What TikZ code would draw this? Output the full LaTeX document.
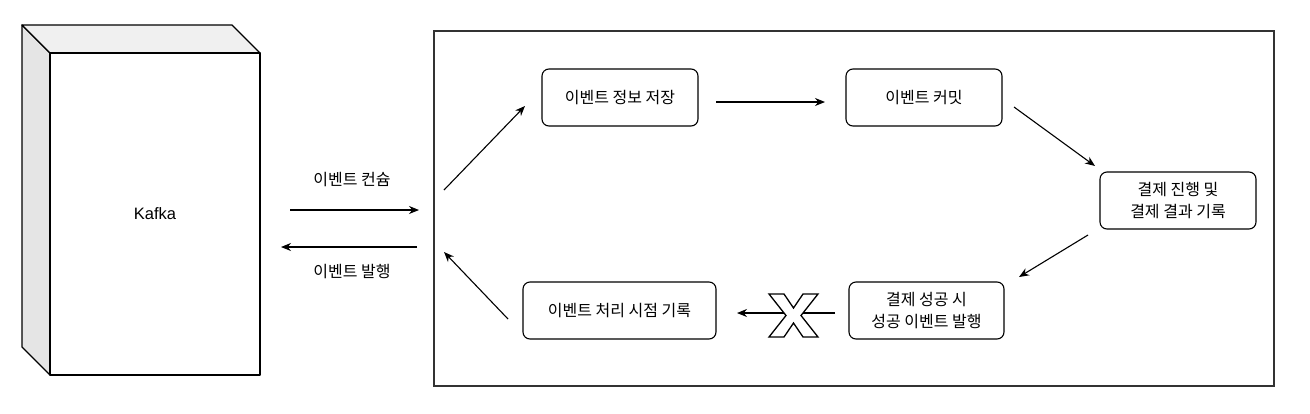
\documentclass[tikz,border=0pt]{standalone}
\usepackage{fontspec}
\setmainfont{Noto Sans CJK KR}
\newfontfamily\latinfont{Liberation Sans}
\usetikzlibrary{arrows.meta}
\begin{document}
\begin{tikzpicture}[x=1pt,y=-1pt,
  every node/.style={font=\fontsize{16}{22}\selectfont},
  proc/.style={draw, rounded corners=7pt, line width=1.1pt, minimum width=156pt, minimum height=57pt, align=center, inner sep=2pt},
  arr/.style={line width=1.1pt, -{Stealth[length=10pt,width=8pt]}},
  face/.style={draw, line width=1.3pt, line join=round}]
\useasboundingbox (0,0) rectangle (1310,413);
% Kafka cube
\fill[face, fill=gray!20] (22,25) -- (50,53) -- (50,375) -- (22,347) -- cycle;
\fill[face, fill=gray!12] (22,25) -- (232,25) -- (260,53) -- (50,53) -- cycle;
\draw[face, fill=white] (50,53) rectangle (260,375);
\node[font=\latinfont\fontsize{16.5}{20}\selectfont] (kafka) at (155,214) {Kafka};
% container
\draw[line width=1.1pt, draw=black!80] (434,31) rectangle (1274,386);
% boxes
\node[proc] (save) at (620,97.5) {이벤트 정보 저장};
\node[proc] (commit) at (924,97.5) {이벤트 커밋};
\node[proc] (pay) at (1178,200.5) {결제 진행 및\\결제 결과 기록};
\node[proc, minimum width=155pt] (pub) at (926.5,310.5) {결제 성공 시\\성공 이벤트 발행};
\node[proc, minimum width=193pt] (rec) at (619.5,310.5) {이벤트 처리 시점 기록};
% arrows
\coordinate (a1s) at (444,190); \coordinate (a1e) at (525,106);
\draw[arr] (a1s) -- (a1e);
\coordinate (a2s) at (716,102); \coordinate (a2e) at (825,102);
\draw[arr] (a2s) -- (a2e);
\coordinate (a3s) at (1014,107); \coordinate (a3e) at (1095,166);
\draw[arr] (a3s) -- (a3e);
\coordinate (a4s) at (1088,235); \coordinate (a4e) at (1019,277);
\draw[arr] (a4s) -- (a4e);
\coordinate (a5s) at (835,313); \coordinate (a5e) at (737,313);
\draw[arr] (a5s) -- (a5e);
\coordinate (a6s) at (508,319); \coordinate (a6e) at (444,252);
\draw[arr] (a6s) -- (a6e);
% X mark
\begin{scope}[shift={(769,294)}]
\draw[line width=1.3pt, fill=white, line join=miter]
 (0,0) -- (15,0) -- (24.5,14) -- (34,0) -- (49,0) -- (32,21.5) -- (49,43) -- (34,43) -- (24.5,29) -- (15,43) -- (0,43) -- (17,21.5) -- cycle;
\end{scope}
% kafka arrows
\coordinate (k1s) at (290,210); \coordinate (k1e) at (419,210);
\draw[arr] (k1s) -- (k1e);
\node (lab1) at (352,180) {이벤트 컨슘};
\coordinate (k2s) at (417,247); \coordinate (k2e) at (281,247);
\draw[arr] (k2s) -- (k2e);
\node (lab2) at (352,272) {이벤트 발행};
\end{tikzpicture}
\end{document}
